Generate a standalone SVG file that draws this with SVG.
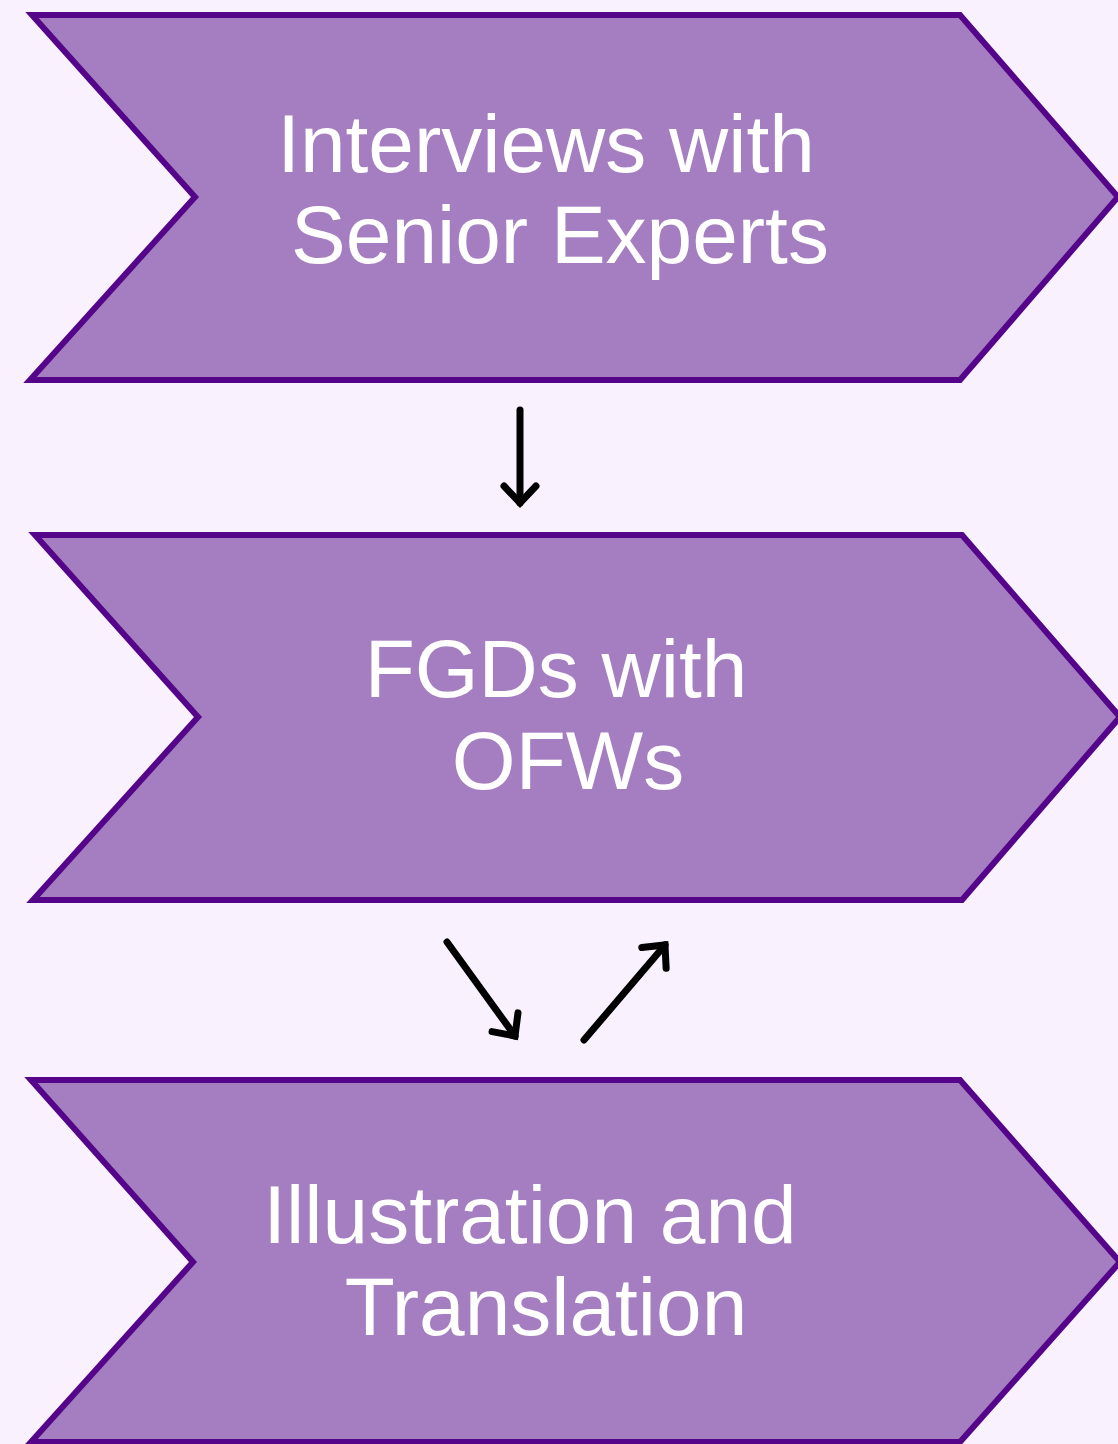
<svg xmlns="http://www.w3.org/2000/svg" width="1118" height="1444" viewBox="0 0 1118 1444">
<style>
.chev{fill:#a47ec0;stroke:#55058a;stroke-width:6;stroke-linejoin:miter}
.lbl{font-family:"Liberation Sans",Arial,sans-serif;font-size:82px;fill:#ffffff;text-anchor:middle}
.conn{stroke:#000;stroke-width:7;stroke-linecap:round;fill:none}
</style>
<defs>
<marker id="ah" markerUnits="userSpaceOnUse" markerWidth="44" markerHeight="44" viewBox="-22 -22 44 44" refX="0" refY="0" orient="auto">
<path d="M-17,-16 L0,0 L-17,16" fill="none" stroke="#000" stroke-width="7" stroke-linecap="round" stroke-linejoin="miter"/>
</marker>
</defs>
<rect width="1118" height="1444" fill="#f9f2fe"/>
<g id="node1">
<polygon class="chev" points="32,15 960,15 1118,197 960,380 30,380 195,197"/>
<text class="lbl"><tspan x="546" y="172">Interviews with</tspan><tspan x="560" y="263">Senior Experts</tspan></text>
</g>
<g id="node2">
<polygon class="chev" points="35,535 962,535 1120,717 962,900 33,900 198,717"/>
<text class="lbl"><tspan x="556" y="697">FGDs with</tspan><tspan x="568" y="789">OFWs</tspan></text>
</g>
<g id="node3">
<polygon class="chev" points="31,1080 960,1080 1120,1262 960,1442 31,1442 193,1262"/>
<text class="lbl"><tspan x="530" y="1243">Illustration and</tspan><tspan x="546" y="1335">Translation</tspan></text>
</g>
<g id="connectors">
<line class="conn" x1="520" y1="410" x2="520" y2="503" marker-end="url(#ah)"/>
<line class="conn" x1="447" y1="942" x2="515" y2="1036" marker-end="url(#ah)"/>
<line class="conn" x1="584" y1="1040" x2="665" y2="945" marker-end="url(#ah)"/>
</g>
</svg>
